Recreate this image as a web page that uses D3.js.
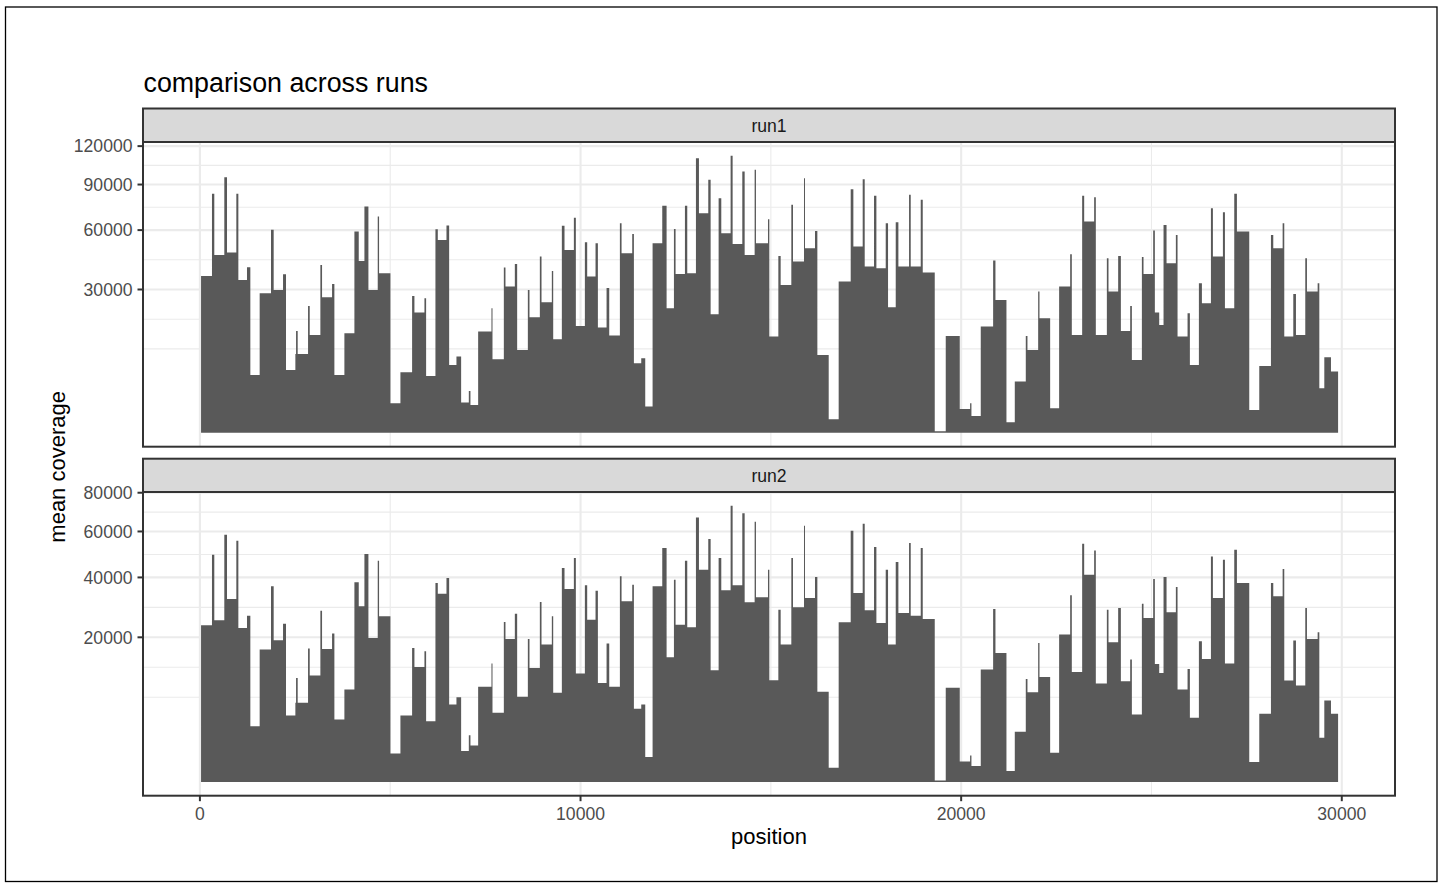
<!DOCTYPE html>
<html><head><meta charset="utf-8">
<script src="https://cdn.jsdelivr.net/npm/d3@7"></script>
<style>
body{margin:0;background:#fff}
text{font-family:"Liberation Sans",Arial,Helvetica,sans-serif}
</style>
</head><body>
<svg id="chart" width="1443" height="888"></svg>
<script>
// ---- data (step segments: start position, mean coverage) ----
const positions = [30,317,378,641,712,957,1010,1237,1325,1570,1868,1938,2184,2262,2508,2526,2569,2841,2885,3165,3209,3472,3533,3796,4059,4173,4322,4427,4672,4707,5005,5268,5575,5636,5899,5943,6188,6250,6478,6548,6740,6863,7065,7108,7310,7660,7687,7985,8028,8274,8335,8616,8659,8931,8975,9246,9282,9509,9579,9825,9877,10114,10175,10394,10456,10684,10754,11034,11078,11358,11402,11595,11700,11893,12147,12261,12454,12497,12743,12804,13032,13111,13356,13418,13628,13698,13943,13996,14250,14312,14574,14609,14925,14960,15197,15258,15538,15582,15871,15897,16160,16222,16520,16782,17098,17168,17413,17466,17711,17773,18018,18079,18281,18351,18631,18675,18938,18991,19306,19595,19963,20235,20270,20515,20840,20901,21190,21409,21698,21742,22023,22058,22338,22574,22864,22907,23179,23232,23494,23538,23828,23871,24125,24196,24441,24485,24748,24791,25045,25089,25203,25317,25396,25641,25685,25948,26009,26246,26325,26562,26614,26877,26930,27175,27245,27569,27832,28139,28200,28446,28489,28726,28796,29041,29085,29366,29410,29541,29716];
const run1Values = [35960,83365,46230,95405,47450,83365,34150,40042,4897,28454,60137,29828,36727,5779,9093,15168,9093,23523,14000,41178,26846,32385,4897,14481,59151,43164,74764,29828,68298,37191,1277,5358,27376,21116,26452,4729,60531,54354,62731,6734,8489,1335,2564,1137,14970,22666,7905,39880,31236,41670,10038,29828,19509,45369,24902,38288,12788,62530,48865,67460,16693,53047,35654,52491,16177,30670,13811,64151,47098,57787,7069,8122,1005,52491,75202,22666,60728,36883,75202,37191,110118,70421,93428,20535,80372,58177,111997,52122,99683,46229,100959,52491,66626,13528,45711,31952,75867,42829,94661,49760,59543,8864,269,33409,86657,50663,93918,40365,81978,39560,64151,23031,64766,40365,82672,40365,79231,37503,4,13715,834,1277,417,16484,43331,25800,163,3834,13715,10038,29138,19174,882,31236,46578,14000,81978,65178,81060,14000,44513,29138,45711,15168,23523,7763,45196,36883,59741,21116,17006,63135,42000,57207,13528,20883,6734,32677,24521,73664,45369,71065,22666,83365,59151,766,6538,57207,49760,64151,13528,28181,14000,44513,29138,32677,2901,8341,5477];
const run2Values = [23462,49369,24983,58430,32003,55630,22671,26443,2974,16747,36580,19189,23963,4218,5978,10351,5978,17000,10819,28056,16916,21036,3726,8161,38091,29491,49658,19825,46799,26231,775,4218,17170,12652,16328,3530,37838,33893,39760,5729,6865,907,2092,1271,8639,13394,4563,24470,19550,27083,6919,19550,12432,30963,18034,26231,7584,43751,35593,47934,11229,36957,25189,34980,9380,18298,8639,40413,31191,37207,5106,5729,588,36580,52304,14864,39114,23662,46799,22867,66900,43073,56402,11929,47934,35102,72926,36957,69106,30848,64730,32588,43073,9892,28383,18034,47934,29157,62757,32353,40152,7755,191,24368,60334,34133,63740,28164,52753,24165,43073,18034,46237,27297,54560,26443,52304,25395,2,8458,401,670,239,12072,28602,15914,112,2401,10152,7698,18474,10550,811,20753,33296,11577,54257,41071,51266,9254,28383,18651,28935,9698,14314,4346,30392,25707,39371,13319,11367,40152,27513,36332,8161,12216,3927,18920,14470,48647,32353,47222,13394,51561,37838,375,4433,37838,32941,43343,9827,19099,8883,28935,19550,21415,1861,6336,4433];
const genomeEnd = 29903;
const runNames = ["run1", "run2"];
const xTickValues = [0, 10000, 20000, 30000];
const run1Ticks = [30000, 60000, 90000, 120000];
const run2Ticks = [20000, 40000, 60000, 80000];
const titleText = "comparison across runs";
const xTitle = "position";
const yTitle = "mean coverage";

// ---- layout ----
const svg = d3.select("#chart");
const W = 1443, H = 888;
const left = 143, right = 1395;
const panels = [
  {name: runNames[0], values: run1Values, ticks: run1Ticks, stripTop: 108.5, top: 142, bottom: 446.7},
  {name: runNames[1], values: run2Values, ticks: run2Ticks, stripTop: 458.7, top: 492, bottom: 795.7}
];
const FILL = "#595959", GRID = "#EBEBEB", DARK = "#333333", TXT = "#4D4D4D";

svg.append("rect").attr("width", W).attr("height", H).attr("fill", "#fff");
svg.append("rect").attr("x", 5.5).attr("y", 7).attr("width", 1431.5).attr("height", 874.5)
  .attr("fill", "none").attr("stroke", "#000").attr("stroke-width", 1.3);

const pw = right - left;
const xPad = 0.05 / 1.1 * pw;
const x = d3.scaleLinear().domain([0, genomeEnd]).range([left + xPad, right - xPad]);
const xMinor = [];
for (let i = 0; i < xTickValues.length - 1; i++) xMinor.push((xTickValues[i] + xTickValues[i + 1]) / 2);

function sqrtMinor(major, limLo, limHi) {
  let b = major.map(Math.sqrt);
  const bd = b[1] - b[0];
  if (limLo < b[0]) b.unshift(b[0] - bd);
  if (limHi > b[b.length - 1]) b.push(b[b.length - 1] + bd);
  const out = [];
  for (let i = 0; i < b.length; i++) {
    out.push(b[i]);
    if (i < b.length - 1) out.push((b[i] + b[i + 1]) / 2);
  }
  const majS = major.map(Math.sqrt);
  return out.filter(s => s >= limLo && s <= limHi && !majS.some(m => Math.abs(m - s) < 1e-6));
}

panels.forEach(p => {
  const g = svg.append("g");
  const h = p.bottom - p.top;
  const maxV = d3.max(p.values);
  const S = Math.sqrt(maxV);
  const yPad = 0.05 / 1.1 * h;
  const y = d3.scaleSqrt().domain([0, maxV]).range([p.bottom - yPad, p.top + yPad]);
  const pxPerS = (h - 2 * yPad) / S;
  const sToPx = s => (p.bottom - yPad) - s * pxPerS;

  // minor grid
  const yMinorS = sqrtMinor(p.ticks, -0.05 * S, 1.05 * S);
  g.selectAll(".hmin").data(yMinorS).enter().append("line")
    .attr("x1", left).attr("x2", right).attr("y1", d => sToPx(d)).attr("y2", d => sToPx(d))
    .attr("stroke", GRID).attr("stroke-width", 1.1);
  g.selectAll(".vmin").data(xMinor).enter().append("line")
    .attr("y1", p.top).attr("y2", p.bottom).attr("x1", d => x(d)).attr("x2", d => x(d))
    .attr("stroke", GRID).attr("stroke-width", 1.1);
  // major grid
  g.selectAll(".hmaj").data(p.ticks).enter().append("line")
    .attr("x1", left).attr("x2", right).attr("y1", d => y(d)).attr("y2", d => y(d))
    .attr("stroke", GRID).attr("stroke-width", 2.1);
  g.selectAll(".vmaj").data(xTickValues).enter().append("line")
    .attr("y1", p.top).attr("y2", p.bottom).attr("x1", d => x(d)).attr("x2", d => x(d))
    .attr("stroke", GRID).attr("stroke-width", 2.1);

  // area
  const pts = positions.map((pos, i) => ({x: pos, v: p.values[i]}));
  pts.push({x: genomeEnd, v: p.values[p.values.length - 1]});
  const area = d3.area().x(d => x(d.x)).y0(y(0)).y1(d => y(d.v)).curve(d3.curveStepAfter);
  g.append("path").attr("d", area(pts)).attr("fill", FILL);

  // panel border
  g.append("rect").attr("x", left).attr("y", p.top).attr("width", pw).attr("height", h)
    .attr("fill", "none").attr("stroke", DARK).attr("stroke-width", 2);
  // strip
  g.append("rect").attr("x", left).attr("y", p.stripTop).attr("width", pw).attr("height", p.top - p.stripTop)
    .attr("fill", "#D9D9D9").attr("stroke", DARK).attr("stroke-width", 2);
  g.append("text").attr("x", (left + right) / 2).attr("y", (p.stripTop + p.top) / 2).attr("dy", "0.36em")
    .attr("text-anchor", "middle").attr("font-size", 17.6).attr("fill", "#1A1A1A").text(p.name);

  // y axis
  g.selectAll(".ytick").data(p.ticks).enter().append("line")
    .attr("x1", left - 5.5).attr("x2", left).attr("y1", d => y(d)).attr("y2", d => y(d))
    .attr("stroke", DARK).attr("stroke-width", 2);
  g.selectAll(".ylab").data(p.ticks).enter().append("text")
    .attr("x", left - 10.5).attr("y", d => y(d)).attr("dy", "0.36em")
    .attr("text-anchor", "end").attr("font-size", 17.6).attr("fill", TXT).text(d => d);
});

// x axis (bottom panel only)
const pb = panels[1].bottom;
svg.selectAll(".xtick").data(xTickValues).enter().append("line")
  .attr("x1", d => x(d)).attr("x2", d => x(d)).attr("y1", pb).attr("y2", pb + 5.5)
  .attr("stroke", DARK).attr("stroke-width", 2);
svg.selectAll(".xlab").data(xTickValues).enter().append("text")
  .attr("x", d => x(d)).attr("y", 820).attr("text-anchor", "middle")
  .attr("font-size", 17.6).attr("fill", TXT).text(d => d);

svg.append("text").attr("x", (left + right) / 2).attr("y", 844).attr("text-anchor", "middle")
  .attr("font-size", 22).attr("fill", "#000").text(xTitle);
svg.append("text").attr("transform", `translate(65,${(panels[0].top + panels[1].bottom) / 2 - 2}) rotate(-90)`)
  .attr("text-anchor", "middle").attr("font-size", 22).attr("fill", "#000").text(yTitle);
svg.append("text").attr("x", left + 0.5).attr("y", 92).attr("font-size", 26.8).attr("fill", "#000").text(titleText);
</script>
</body></html>
